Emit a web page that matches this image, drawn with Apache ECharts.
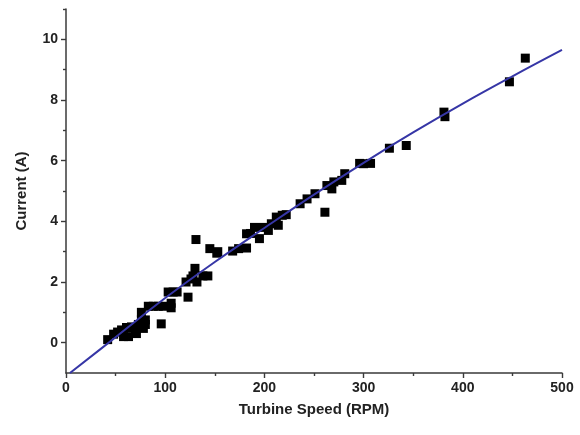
<!DOCTYPE html>
<html>
<head>
<meta charset="utf-8">
<script src="https://cdn.jsdelivr.net/npm/echarts@6/dist/echarts.min.js"></script>
<style>
  html, body { margin: 0; padding: 0; background: #fff; }
  #chart { width: 580px; height: 435px; }
</style>
</head>
<body>
<div id="chart"></div>
<script>
    // measured points: turbine speed (RPM) vs current (A)
    var speedData = [42, 48, 52, 56, 58, 61, 63, 66, 70, 71, 73, 75, 76, 76, 78, 80, 80, 83, 88, 93,
        96, 98, 103, 106, 106, 108, 112, 121, 123, 126, 128, 130, 131, 132, 138, 143, 145, 152, 153, 168,
        174, 182, 182, 186, 190, 195, 199, 204, 207, 212, 214, 218, 222, 236, 243, 251, 261, 263, 268, 270,
        278, 281, 296, 300, 307, 326, 343, 381, 382, 447, 463];
    var currentData = [0.1, 0.28, 0.35, 0.42, 0.2, 0.5, 0.2, 0.52, 0.35, 0.3, 0.6, 0.5, 0.75, 1.0, 0.47, 0.6, 0.75, 1.2, 1.2, 1.2,
        0.62, 1.2, 1.67, 1.15, 1.3, 1.67, 1.67, 2.0, 1.5, 2.1, 2.2, 2.45, 3.4, 2.0, 2.2, 2.2, 3.1, 2.95, 3.0, 3.02,
        3.1, 3.12, 3.59, 3.6, 3.8, 3.43, 3.8, 3.7, 3.92, 4.14, 3.87, 4.2, 4.22, 4.58, 4.74, 4.91, 4.3, 5.18, 5.07, 5.3,
        5.35, 5.57, 5.91, 5.9, 5.91, 6.41, 6.5, 7.6, 7.45, 8.6, 9.38];

    // fitted curve
    var fitX = [4, 50, 100, 150, 200, 250, 300, 350, 400, 450, 500];
    var fitY = [-1.0, 0.18, 1.47, 2.66, 3.78, 4.88, 5.93, 6.93, 7.88, 8.78, 9.65];

    var xMajorTicks = [0, 100, 200, 300, 400, 500];
    var xMinorTicks = [50, 150, 250, 350, 450];
    var yMajorTicks = [0, 2, 4, 6, 8, 10];
    var yMinorTicks = [1, 3, 5, 7, 9, 11];

    var pts = [], fit = [];
    for (var i = 0; i < speedData.length; i++) {
        pts.push([speedData[i], currentData[i]]);
    }
    for (var i = 0; i < fitX.length; i++) {
        fit.push([fitX[i], fitY[i]]);
    }

    var axisColor = '#3a3a3a';
    var font = 'Liberation Sans, Arial, sans-serif';

    // extra axis that only draws a set of ticks
    function tickAxis(pos, min, max, values, len) {
        return {
            type: 'value',
            position: pos,
            min: min,
            max: max,
            axisLine: { show: false, onZero: false },
            axisTick: { show: true, customValues: values, length: len, lineStyle: { color: axisColor, width: 1.4 } },
            axisLabel: { show: false },
            splitLine: { show: false }
        };
    }

    var myChart = echarts.init(document.getElementById('chart'));

    var option = {
        animation: false,
        grid: { left: 66, right: 18, top: 9, bottom: 62 },
        xAxis: [{
            type: 'value',
            min: 0,
            max: 500,
            name: 'Turbine Speed (RPM)',
            nameLocation: 'middle',
            nameGap: 29,
            nameTextStyle: { fontFamily: font, fontWeight: 'bold', fontSize: 15, color: '#222' },
            axisLine: { onZero: false, lineStyle: { color: axisColor, width: 1.5 } },
            axisTick: { show: false },
            axisLabel: { customValues: xMajorTicks, margin: 8, fontFamily: font, fontWeight: 'bold', fontSize: 14, color: '#222' },
            splitLine: { show: false }
        },
            tickAxis('bottom', 0, 500, xMajorTicks, 5),
            tickAxis('bottom', 0, 500, xMinorTicks, 3)
        ],
        yAxis: [{
            type: 'value',
            min: -1,
            max: 11,
            name: 'Current (A)',
            nameLocation: 'middle',
            nameGap: 37,
            nameTextStyle: { fontFamily: font, fontWeight: 'bold', fontSize: 15, color: '#222' },
            axisLine: { onZero: false, lineStyle: { color: axisColor, width: 1.5 } },
            axisTick: { show: false },
            axisLabel: { customValues: yMajorTicks, margin: 8, fontFamily: font, fontWeight: 'bold', fontSize: 14, color: '#222' },
            splitLine: { show: false }
        },
            tickAxis('left', -1, 11, yMajorTicks, 5),
            tickAxis('left', -1, 11, yMinorTicks, 3)
        ],
        series: [{
            name: 'fit',
            type: 'line',
            data: fit,
            smooth: 0.4,
            showSymbol: false,
            lineStyle: { color: '#3636a6', width: 2 },
            z: 3
        }, {
            name: 'data',
            type: 'scatter',
            data: pts,
            symbol: 'rect',
            symbolSize: 9,
            itemStyle: { color: '#000', opacity: 1 },
            z: 2
        }]
    };

    myChart.setOption(option);
</script>
</body>
</html>
